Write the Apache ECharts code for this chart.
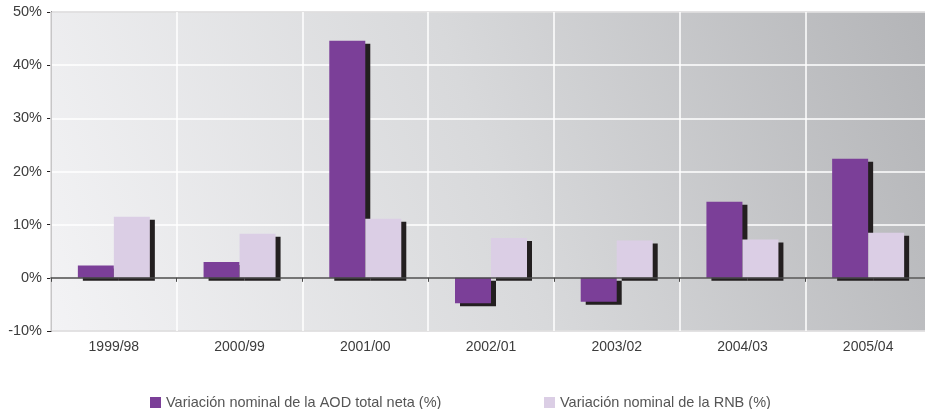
<!DOCTYPE html>
<html>
<head>
<meta charset="utf-8">
<script src="https://cdn.jsdelivr.net/npm/echarts@6/dist/echarts.min.js"></script>
<style>
  html, body { margin: 0; padding: 0; background: #fff; overflow: hidden; }
  /* plot runs past the right edge in the reference, so the canvas is a bit wider than the window */
  #chart { width: 931px; height: 409px; }
</style>
</head>
<body>
<div id="chart"></div>
<script>
// data
const categories = ['1999/98', '2000/99', '2001/00', '2002/01', '2003/02', '2004/03', '2005/04'];
const aodValues = [2.3, 3.0, 44.6, -4.8, -4.5, 14.3, 22.4];
const rnbValues = [11.5, 8.3, 11.1, 7.5, 7.0, 7.2, 8.5];
const seriesNames = ['Variación nominal de la AOD total neta (%)', 'Variación nominal de la RNB (%)'];

const font = 'Liberation Sans, Arial, sans-serif';
const textGray = '#3c3c3c';

const chart = echarts.init(document.getElementById('chart'));

const barShadow = {
  shadowColor: '#231f20',
  shadowBlur: 0,
  shadowOffsetX: 5,
  shadowOffsetY: 3
};

const legendBase = {
  top: 390,
  icon: 'rect',
  itemWidth: 11,
  itemHeight: 11,
  itemGap: 6,
  itemStyle: { shadowBlur: 0, shadowOffsetX: 0, shadowOffsetY: 0, shadowColor: 'transparent' },
  textStyle: { color: '#555', fontSize: 14.5, fontFamily: font }
};

chart.setOption({
  animation: false,
  textStyle: { fontFamily: font },
  grid: {
    left: 51,
    right: 0,
    top: 12,
    bottom: 78,
    show: true,
    borderColor: '#231f20',
    borderWidth: 1,
    backgroundColor: new echarts.graphic.LinearGradient(0, 1, 1, 0, [
      { offset: 0, color: '#f3f3f5' },
      { offset: 0.5, color: '#d8d9db' },
      { offset: 1, color: '#b3b4b7' }
    ])
  },
  legend: [
    Object.assign({ data: [seriesNames[0]], left: 145 }, legendBase),
    Object.assign({ data: [seriesNames[1]], left: 539 }, legendBase)
  ],
  xAxis: [
    {
      type: 'category',
      data: categories,
      axisLine: { onZero: true, lineStyle: { color: '#4a4a4a', width: 1.5 } },
      axisTick: { show: true, length: 4, lineStyle: { color: '#4a4a4a' } },
      axisLabel: { show: false },
      splitLine: { show: true, lineStyle: { color: '#ffffff', width: 1.5 } },
      z: 3
    },
    {
      type: 'category',
      data: categories,
      position: 'bottom',
      axisLine: { show: false, onZero: false },
      axisTick: { show: false },
      axisLabel: { color: textGray, fontSize: 14, margin: 9, fontFamily: font },
      splitLine: { show: false }
    }
  ],
  yAxis: {
    type: 'value',
    min: -10,
    max: 50,
    interval: 10,
    axisLine: { show: true, lineStyle: { color: '#231f20', width: 1 } },
    axisTick: { show: true, length: 4, lineStyle: { color: '#231f20' } },
    axisLabel: { formatter: '{value}%', color: textGray, fontSize: 14.5, margin: 9, fontFamily: font },
    splitLine: { show: true, lineStyle: { color: '#ffffff', width: 1.5 } }
  },
  series: [
    {
      name: seriesNames[0],
      type: 'bar',
      xAxisIndex: 0,
      data: aodValues,
      barWidth: 36,
      barGap: '0%',
      itemStyle: Object.assign({ color: '#7b3f98' }, barShadow)
    },
    {
      name: seriesNames[1],
      type: 'bar',
      xAxisIndex: 0,
      data: rnbValues,
      barWidth: 36,
      barGap: '0%',
      itemStyle: Object.assign({ color: '#dbcee5' }, barShadow)
    }
  ]
});
</script>
</body>
</html>
